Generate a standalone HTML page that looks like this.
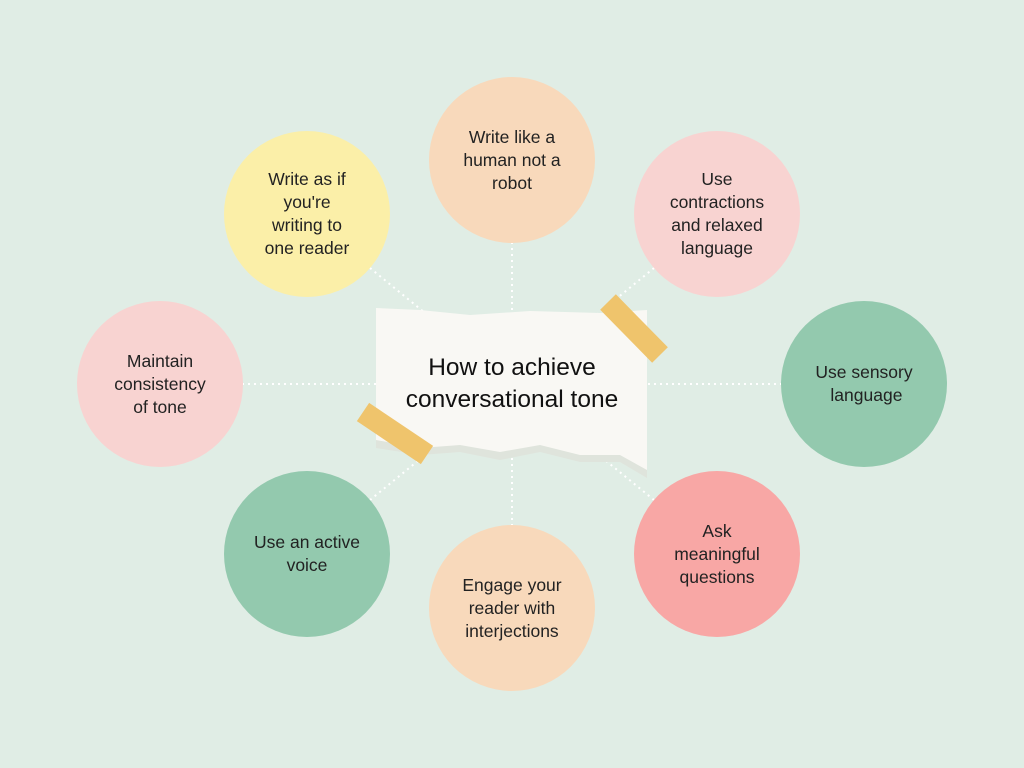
<!DOCTYPE html>
<html><head><style>
body{margin:0;width:1024px;height:768px;background:#e0ede5;overflow:hidden;position:relative;font-family:"Liberation Sans",sans-serif}
.c{position:absolute;width:166px;height:166px;border-radius:50%;display:flex;align-items:center;justify-content:center;text-align:center;font-size:17.5px;line-height:23px;color:#222;box-sizing:border-box;padding:0 8px;white-space:nowrap}
</style></head><body>
<svg width="1024" height="768" style="position:absolute;left:0;top:0">
<g stroke="#fff" stroke-width="2" stroke-dasharray="2,4" fill="none">
<line x1="512" y1="242" x2="512" y2="384"/>
<line x1="512" y1="526" x2="512" y2="384"/>
<line x1="242" y1="384" x2="512" y2="384"/>
<line x1="782" y1="384" x2="512" y2="384"/>
<line x1="370" y1="268" x2="512" y2="384"/>
<line x1="654" y1="268" x2="512" y2="384"/>
<line x1="370" y1="500" x2="512" y2="384"/>
<line x1="654" y1="500" x2="512" y2="384"/>
</g>
<polygon points="376,310 420,313 470,318 530,313 600,316 647,312 647,478 620,462 580,462 540,452 500,460 460,452 420,455 376,448" fill="#dfe4dc"/>
<polygon points="376,308 420,310 470,315 530,311 600,313 647,310 647,470 620,455 580,455 540,445 500,452 460,445 420,448 376,440" fill="#f9f8f4"/>
<text x="512" y="375" font-size="24.5" text-anchor="middle" fill="#111" font-family="Liberation Sans">How to achieve</text>
<text x="512" y="407" font-size="24.5" text-anchor="middle" fill="#111" font-family="Liberation Sans">conversational tone</text>
<line x1="608" y1="302" x2="660" y2="355" stroke="#efc46c" stroke-width="22"/>
<line x1="363" y1="412" x2="427" y2="455" stroke="#efc46c" stroke-width="22"/>
</svg>
<div class="c" style="left:429px;top:77px;background:#f8d9bb">Write like a<br>human not a<br>robot</div>
<div class="c" style="left:224px;top:131px;background:#fbefa8">Write as if<br>you're<br>writing to<br>one reader</div>
<div class="c" style="left:634px;top:131px;background:#f8d3d1">Use<br>contractions<br>and relaxed<br>language</div>
<div class="c" style="left:77px;top:301px;background:#f8d3d1">Maintain<br>consistency<br>of tone</div>
<div class="c" style="left:781px;top:301px;background:#93c9ae">Use sensory<br>&nbsp;language</div>
<div class="c" style="left:224px;top:471px;background:#93c9ae">Use an active<br>voice</div>
<div class="c" style="left:429px;top:525px;background:#f8d9bb">Engage your<br>reader with<br>interjections</div>
<div class="c" style="left:634px;top:471px;background:#f8a7a5">Ask<br>meaningful<br>questions</div>
</body></html>
